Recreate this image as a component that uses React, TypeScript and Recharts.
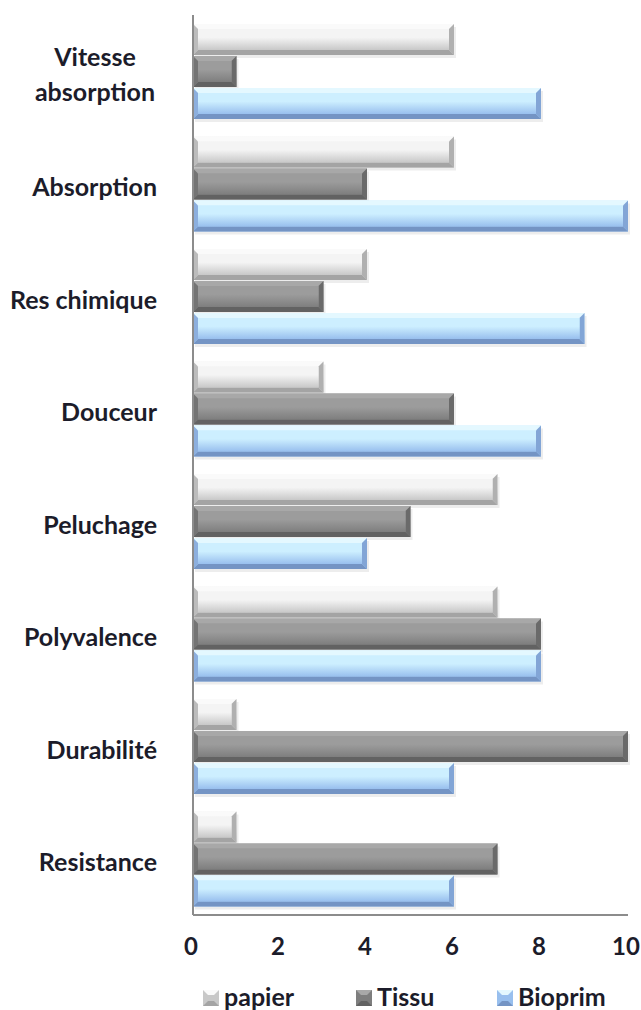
import React from 'react';
import { BarChart, Bar, XAxis, YAxis, Legend } from 'recharts';

const categories = ['Vitesse absorption', 'Absorption', 'Res chimique', 'Douceur', 'Peluchage', 'Polyvalence', 'Durabilité', 'Resistance'];
const papier = [6, 6, 4, 3, 7, 7, 1, 1];
const tissu = [1, 4, 3, 6, 5, 8, 10, 7];
const bioprim = [8, 10, 9, 8, 4, 8, 6, 6];
const xTicks = [0, 2, 4, 6, 8, 10];
const seriesNames = ['papier', 'Tissu', 'Bioprim'];

const data = categories.map((c, i) => ({ name: c, papier: papier[i], Tissu: tissu[i], Bioprim: bioprim[i] }));

const FONT = 'Lato, "Open Sans", sans-serif';
const TEXT = '#1c1c2a';

type Pal = { top: string; f1: string; f2: string; bottom: string; right: string; left: string };
const palettes: Record<string, Pal> = {
  papier: { top: '#fafafa', f1: '#f4f4f4', f2: '#c8c8c8', bottom: '#a4a4a4', right: '#b0b0b0', left: '#bcbcbc' },
  Tissu: { top: '#a8a8a8', f1: '#9c9c9c', f2: '#7e7e7e', bottom: '#626262', right: '#6a6a6a', left: '#747474' },
  Bioprim: { top: '#e4f8ff', f1: '#cdefff', f2: '#98bfee', bottom: '#7494c4', right: '#82a5d6', left: '#8cafde' },
};

const makeShape = (key: string) => (props: any) => {
  const { x, y, width, height } = props;
  if (!width || width <= 0) return null;
  const p = palettes[key];
  const b = Math.min(5, width / 2, height / 3);
  const x2 = x + width;
  const y2 = y + height;
  return (
    <g>
      <rect x={x + 2} y={y + 3} width={width} height={height} fill="#000" opacity={0.07} />
      <rect x={x} y={y} width={width} height={height} fill={`url(#face-${key})`} />
      <polygon points={`${x},${y} ${x2},${y} ${x2 - b},${y + b} ${x + b},${y + b}`} fill={p.top} />
      <polygon points={`${x},${y2} ${x2},${y2} ${x2 - b},${y2 - b} ${x + b},${y2 - b}`} fill={p.bottom} />
      <polygon points={`${x2},${y} ${x2},${y2} ${x2 - b},${y2 - b} ${x2 - b},${y + b}`} fill={p.right} />
      <polygon points={`${x},${y} ${x},${y2} ${x + b},${y2 - b} ${x + b},${y + b}`} fill={p.left} />
      <rect x={x + b} y={y + b} width={Math.max(0, width - 2 * b)} height={Math.max(0, height - 2 * b)} fill={`url(#face-${key})`} />
    </g>
  );
};

const YTick = (props: any) => {
  const { x, y, payload } = props;
  const label: string = payload.value;
  const lines = label.length > 14 ? label.split(' ') : [label];
  const lh = 35;
  const startY = y - ((lines.length - 1) * lh) / 2;
  if (lines.length === 1) {
    return (
      <text x={x - 28} y={y + 3} dy="0.38em" textAnchor="end" fontFamily={FONT} fontWeight={700} fontSize={25} fill={TEXT}>
        {label}
      </text>
    );
  }
  return (
    <text x={x - 28 - 62} y={startY + 3} textAnchor="middle" fontFamily={FONT} fontWeight={700} fontSize={25} fill={TEXT}>
      {lines.map((l, i) => (
        <tspan key={i} x={x - 28 - 62} dy={i === 0 ? '0.38em' : lh}>
          {l}
        </tspan>
      ))}
    </text>
  );
};

const XTick = (props: any) => {
  const { x, y, payload } = props;
  return (
    <text x={x - 2} y={y + 32} textAnchor="middle" fontFamily={FONT} fontWeight={700} fontSize={24} fill={TEXT}>
      {payload.value}
    </text>
  );
};

const legendX = [203, 356, 497];
const LegendContent = () => (
  <svg width={641} height={34}>
    {seriesNames.map((n, i) => {
      const p = palettes[n];
      const ix = legendX[i];
      const s = 16;
      const t = 10;
      return (
        <g key={n}>
          <rect x={ix} y={t} width={s} height={s} fill={p.f2} />
          <polygon points={`${ix},${t} ${ix + s},${t} ${ix + s - 5},${t + 5} ${ix + 5},${t + 5}`} fill={p.top} />
          <polygon points={`${ix},${t + s} ${ix + s},${t + s} ${ix + s - 5},${t + s - 5} ${ix + 5},${t + s - 5}`} fill={p.bottom} />
          <text x={ix + 21} y={26} fontFamily={FONT} fontWeight={700} fontSize={25} fill={TEXT}>
            {n}
          </text>
        </g>
      );
    })}
  </svg>
);

export default function App() {
  return (
    <div style={{ position: 'absolute', left: 0, top: 0, width: 641, height: 1010, background: '#fff' }}>
      <BarChart
        width={641}
        height={1010}
        data={data}
        layout="vertical"
        margin={{ top: 15, right: 13, bottom: 55, left: 0 }}
        barCategoryGap="8%"
        barGap={1}
      >
        <defs>
          {seriesNames.map((n) => (
            <linearGradient key={n} id={`face-${n}`} x1="0" y1="0" x2="0" y2="1">
              <stop offset="0%" stopColor={palettes[n].f1} />
              <stop offset="40%" stopColor={palettes[n].f1} />
              <stop offset="100%" stopColor={palettes[n].f2} />
            </linearGradient>
          ))}
        </defs>
        <XAxis
          type="number"
          domain={[0, 10]}
          ticks={xTicks}
          height={40}
          axisLine={{ stroke: '#8c8c8c', strokeWidth: 2 }}
          tickLine={false}
          tick={<XTick />}
          interval={0}
        />
        <YAxis
          type="category"
          dataKey="name"
          width={193}
          axisLine={{ stroke: '#8c8c8c', strokeWidth: 2 }}
          tickLine={false}
          tick={<YTick />}
          interval={0}
        />
        <Bar dataKey="papier" isAnimationActive={false} shape={makeShape('papier')} />
        <Bar dataKey="Tissu" isAnimationActive={false} shape={makeShape('Tissu')} />
        <Bar dataKey="Bioprim" isAnimationActive={false} shape={makeShape('Bioprim')} />
        <Legend
          layout="horizontal"
          verticalAlign="middle"
          align="center"
          content={<LegendContent />}
          wrapperStyle={{ top: 980, left: 0, width: 641, height: 34 }}
        />
      </BarChart>
    </div>
  );
}
